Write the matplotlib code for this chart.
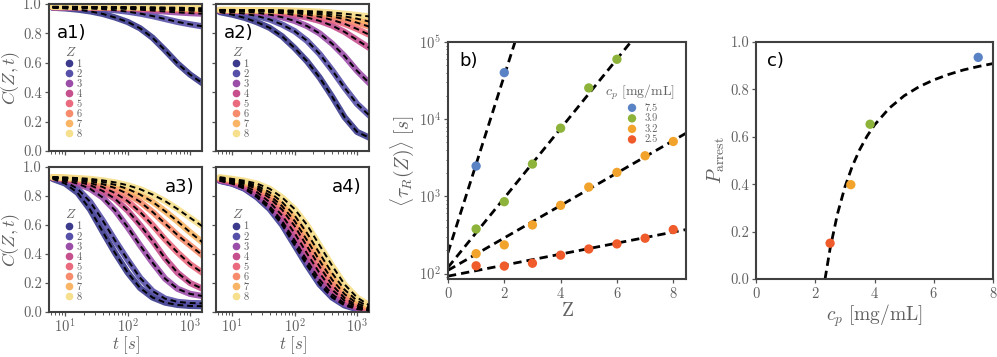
import matplotlib
matplotlib.use('Agg')
import matplotlib.pyplot as plt
from matplotlib.lines import Line2D
from matplotlib.ticker import FormatStrFormatter

plt.rcParams['font.family'] = 'serif'
plt.rcParams['font.serif'] = ['cmr10']
plt.rcParams['mathtext.fontset'] = 'cm'
plt.rcParams['axes.formatter.use_mathtext'] = True

# ---- data: correlation curves C(Z,t), one row per Z = 1..8 ----
t_grid = [6.3, 10, 15.8, 25.1, 39.8, 63.1, 100, 158, 251, 398, 631, 1000, 1585]
z_labels = ['1', '2', '3', '4', '5', '6', '7', '8']

a1_C = [
    [0.975, 0.970, 0.962, 0.950, 0.933, 0.908, 0.878, 0.835, 0.770, 0.685, 0.595, 0.520, 0.460],
    [0.975, 0.974, 0.972, 0.969, 0.965, 0.958, 0.948, 0.935, 0.918, 0.898, 0.878, 0.862, 0.848],
    [0.978, 0.977, 0.976, 0.975, 0.973, 0.970, 0.966, 0.961, 0.955, 0.949, 0.943, 0.938, 0.934],
    [0.978, 0.978, 0.977, 0.976, 0.975, 0.973, 0.971, 0.968, 0.965, 0.961, 0.957, 0.954, 0.951],
    [0.979, 0.979, 0.978, 0.977, 0.976, 0.975, 0.973, 0.971, 0.969, 0.966, 0.963, 0.960, 0.957],
    [0.980, 0.980, 0.979, 0.979, 0.978, 0.977, 0.976, 0.974, 0.972, 0.970, 0.968, 0.965, 0.962],
    [0.980, 0.980, 0.980, 0.979, 0.979, 0.978, 0.977, 0.976, 0.975, 0.973, 0.971, 0.969, 0.967],
    [0.981, 0.981, 0.981, 0.980, 0.980, 0.980, 0.979, 0.978, 0.977, 0.976, 0.975, 0.973, 0.971],
]
a2_C = [
    [0.945, 0.928, 0.906, 0.876, 0.838, 0.780, 0.700, 0.610, 0.500, 0.370, 0.230, 0.130, 0.090],
    [0.952, 0.944, 0.934, 0.918, 0.895, 0.860, 0.815, 0.750, 0.660, 0.550, 0.430, 0.320, 0.240],
    [0.955, 0.952, 0.947, 0.940, 0.928, 0.910, 0.885, 0.850, 0.800, 0.730, 0.645, 0.545, 0.460],
    [0.957, 0.955, 0.953, 0.950, 0.945, 0.937, 0.925, 0.908, 0.885, 0.853, 0.810, 0.755, 0.700],
    [0.958, 0.957, 0.956, 0.954, 0.951, 0.946, 0.938, 0.928, 0.913, 0.892, 0.865, 0.830, 0.790],
    [0.958, 0.958, 0.957, 0.956, 0.954, 0.951, 0.946, 0.939, 0.929, 0.915, 0.897, 0.873, 0.845],
    [0.959, 0.959, 0.958, 0.957, 0.956, 0.954, 0.951, 0.946, 0.939, 0.929, 0.916, 0.900, 0.880],
    [0.960, 0.960, 0.959, 0.959, 0.958, 0.957, 0.955, 0.952, 0.948, 0.942, 0.934, 0.925, 0.915],
]
a3_C = [
    [0.918, 0.886, 0.822, 0.706, 0.554, 0.406, 0.272, 0.166, 0.100, 0.065, 0.049, 0.042, 0.040],
    [0.925, 0.900, 0.850, 0.760, 0.632, 0.492, 0.360, 0.236, 0.144, 0.092, 0.070, 0.062, 0.060],
    [0.925, 0.910, 0.885, 0.850, 0.790, 0.700, 0.585, 0.460, 0.340, 0.230, 0.160, 0.125, 0.110],
    [0.927, 0.917, 0.900, 0.875, 0.835, 0.780, 0.700, 0.600, 0.490, 0.370, 0.270, 0.200, 0.160],
    [0.928, 0.920, 0.910, 0.890, 0.862, 0.820, 0.765, 0.690, 0.600, 0.500, 0.410, 0.330, 0.270],
    [0.929, 0.923, 0.915, 0.902, 0.882, 0.855, 0.815, 0.760, 0.690, 0.610, 0.530, 0.460, 0.390],
    [0.930, 0.926, 0.920, 0.911, 0.897, 0.877, 0.849, 0.810, 0.760, 0.695, 0.625, 0.550, 0.480],
    [0.930, 0.928, 0.924, 0.918, 0.908, 0.894, 0.874, 0.847, 0.810, 0.765, 0.710, 0.650, 0.590],
]
a4_C = [
    [0.905, 0.885, 0.850, 0.790, 0.710, 0.600, 0.460, 0.320, 0.190, 0.100, 0.045, 0.020, 0.010],
    [0.906, 0.887, 0.854, 0.796, 0.718, 0.611, 0.474, 0.333, 0.199, 0.106, 0.051, 0.023, 0.011],
    [0.908, 0.890, 0.859, 0.805, 0.730, 0.628, 0.495, 0.355, 0.223, 0.123, 0.059, 0.026, 0.013],
    [0.913, 0.897, 0.871, 0.826, 0.758, 0.666, 0.544, 0.404, 0.268, 0.154, 0.078, 0.035, 0.016],
    [0.917, 0.904, 0.883, 0.847, 0.786, 0.705, 0.593, 0.453, 0.314, 0.186, 0.097, 0.044, 0.020],
    [0.921, 0.908, 0.890, 0.859, 0.805, 0.730, 0.628, 0.495, 0.355, 0.223, 0.123, 0.059, 0.026],
    [0.925, 0.913, 0.897, 0.871, 0.826, 0.758, 0.666, 0.544, 0.404, 0.268, 0.154, 0.078, 0.035],
    [0.930, 0.918, 0.905, 0.885, 0.850, 0.790, 0.710, 0.600, 0.460, 0.320, 0.190, 0.100, 0.045],
]

# ---- data: relaxation times vs Z ----
cp_labels = ['7.5', '3.9', '3.2', '2.5']
Z_75 = [1, 2]
tau_75 = [2470, 40100]
Z_39 = [1, 2, 3, 4, 5, 6]
tau_39 = [378, 853, 2620, 7650, 25400, 59700]
Z_32 = [1, 2, 3, 4, 5, 6, 7, 8]
tau_32 = [181, 235, 426, 765, 1320, 2044, 3357, 5140]
Z_25 = [1, 2, 3, 4, 5, 6, 7, 8]
tau_25 = [126, 125, 136, 173, 208, 242, 287, 371]
fit_Z = [0, 8.5]
fit_tau = [[186, 1.05e12], [120, 8.0e5], [110, 6730], [92.5, 374]]

# ---- data: arrest probability ----
cp_points = [7.5, 3.85, 3.2, 2.5]
P_points = [0.935, 0.653, 0.398, 0.151]
cp_fit = [2.33, 2.5, 2.75, 3.0, 3.25, 3.5, 3.75, 4.0, 4.5, 5.0, 5.5, 6.0, 6.5, 7.0, 7.5, 8.0]
P_fit = [0.0, 0.128, 0.275, 0.388, 0.476, 0.546, 0.603, 0.650, 0.721, 0.773, 0.811, 0.840,
         0.863, 0.882, 0.8965, 0.909]

z_colors = ['#3b3a8c', '#5650a8', '#9a4ea8', '#c64f8e', '#ea6a7e', '#f68c6c', '#f9b565', '#f6e08d']
cp_colors = ['#5a83c6', '#8db33a', '#f2a32b', '#ef5b2b']

text_grey = '#606060'
spine_grey = '#404040'


def style_axes(ax):
    for s in ax.spines.values():
        s.set_color(spine_grey)
        s.set_linewidth(1.5)
    ax.tick_params(which='both', direction='out', color='#555555', labelcolor=text_grey,
                   labelsize=10.5, pad=2)
    ax.tick_params(which='major', length=3, width=0.9)
    ax.tick_params(which='minor', length=1.8, width=0.7)


fig = plt.figure(figsize=(9.97, 3.57), dpi=100)

a_pos = [
    [0.0491, 0.5770, 0.1535, 0.4118],
    [0.2166, 0.5770, 0.1535, 0.4118],
    [0.0491, 0.1260, 0.1535, 0.4062],
    [0.2166, 0.1260, 0.1535, 0.4062],
]
a_data = [a1_C, a2_C, a3_C, a4_C]
a_names = ['a1)', 'a2)', 'a3)', 'a4)']

for k in range(4):
    ax = fig.add_axes(a_pos[k])
    ax.set_xscale('log')
    for i in range(8):
        ax.plot(t_grid, a_data[k][i], color=z_colors[i], lw=4.5, alpha=0.9,
                solid_capstyle='round', zorder=2)
    for i in range(8):
        ax.plot(t_grid, a_data[k][i], color='k', lw=1.4, ls=(0, (3, 2)), zorder=3)
    ax.set_xlim(5.5, 1550)
    ax.set_ylim(0, 1.0)
    ax.set_yticks([0.0, 0.2, 0.4, 0.6, 0.8, 1.0])
    ax.yaxis.set_major_formatter(FormatStrFormatter('%.1f'))
    style_axes(ax)
    if k in (1, 3):
        ax.tick_params(labelleft=False)
    else:
        ax.set_ylabel(r'$C(Z,t)$', fontsize=13, color=text_grey, labelpad=1)
    if k in (0, 1):
        ax.tick_params(labelbottom=False)
    else:
        ax.tick_params(axis='x', pad=1)
        ax.set_xlabel(r'$t\ [s]$', fontsize=12, color=text_grey, labelpad=-1)

    if k < 2:
        ax.text(0.05, 0.80, a_names[k], transform=ax.transAxes, fontsize=13,
                family='DejaVu Sans', va='center', ha='left')
    else:
        ax.text(0.95, 0.86, a_names[k], transform=ax.transAxes, fontsize=13,
                family='DejaVu Sans', va='center', ha='right')

    handles = [Line2D([], [], ls='', marker='o', ms=4.5, color=c) for c in z_colors]
    leg = ax.legend(handles, z_labels, title=r'$Z$', loc='upper left',
                    bbox_to_anchor=(0.07, 0.75), frameon=False, fontsize=7.5,
                    title_fontsize=9.5, labelspacing=0.05, handletextpad=0.3,
                    handlelength=0.8, borderpad=0)
    leg._legend_box.align = 'left'
    for txt in leg.get_texts():
        txt.set_color(text_grey)
    leg.get_title().set_color(text_grey)

# ---- panel b ----
axb = fig.add_axes([0.4493, 0.2185, 0.2387, 0.6639])
axb.set_yscale('log')
for i in range(4):
    axb.plot(fit_Z, fit_tau[i], color='k', lw=2, ls=(0, (3, 1.8)), zorder=2)
b_Z = [Z_75, Z_39, Z_32, Z_25]
b_tau = [tau_75, tau_39, tau_32, tau_25]
for i in range(4):
    axb.scatter(b_Z[i], b_tau[i], s=45, color=cp_colors[i], zorder=3, label=cp_labels[i],
                edgecolors='none')
axb.set_xlim(0, 8.45)
axb.set_ylim(85, 1e5)
axb.set_xticks([0, 2, 4, 6, 8])
style_axes(axb)
axb.set_xlabel(r'$\mathrm{Z}$', fontsize=14, color=text_grey, labelpad=1)
axb.set_ylabel(r'$\langle \tau_R(Z) \rangle\ [s]$', fontsize=14, color=text_grey, labelpad=2)
axb.text(0.05, 0.92, 'b)', transform=axb.transAxes, fontsize=13, family='DejaVu Sans',
         va='center', ha='left')
legb = axb.legend(title=r'$c_p$ [mg/mL]', loc='upper right', bbox_to_anchor=(0.975, 0.85),
                  frameon=False, fontsize=7.5, title_fontsize=10, labelspacing=0.1,
                  handletextpad=0.2, borderpad=0, markerscale=0.9)
for txt in legb.get_texts():
    txt.set_color(text_grey)
legb.get_title().set_color(text_grey)

# ---- panel c ----
axc = fig.add_axes([0.7583, 0.2185, 0.2377, 0.6639])
axc.plot(cp_fit, P_fit, color='k', lw=2, ls=(0, (3, 1.8)), zorder=2)
axc.scatter(cp_points, P_points, s=45, color=cp_colors, zorder=3, edgecolors='none')
axc.set_xlim(0, 8)
axc.set_ylim(0, 1.0)
axc.set_xticks([0, 2, 4, 6, 8])
axc.set_yticks([0.0, 0.2, 0.4, 0.6, 0.8, 1.0])
axc.yaxis.set_major_formatter(FormatStrFormatter('%.1f'))
style_axes(axc)
axc.set_xlabel(r'$c_p\ [\mathrm{mg/mL}]$', fontsize=14, color=text_grey, labelpad=1)
axc.set_ylabel(r'$P_{\mathrm{arrest}}$', fontsize=14, color=text_grey, labelpad=2)
axc.text(0.045, 0.92, 'c)', transform=axc.transAxes, fontsize=13, family='DejaVu Sans',
         va='center', ha='left')

fig.savefig('out.png', dpi=100)
